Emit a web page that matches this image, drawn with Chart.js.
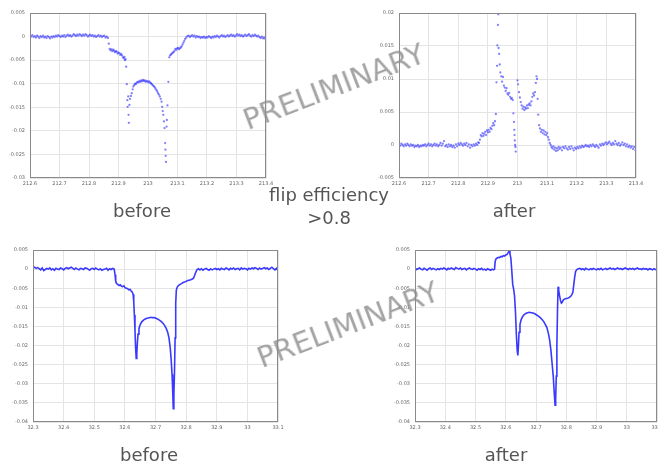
<!DOCTYPE html>
<html><head><meta charset="utf-8">
<script src="https://cdn.jsdelivr.net/npm/chart.js@4"></script>
<style>
html,body{margin:0;padding:0;background:#fff;width:658px;height:465px;overflow:hidden;position:relative;font-family:"DejaVu Sans",sans-serif}
canvas{position:absolute;left:0;top:0}
.lbl{position:absolute;color:#555;font-size:18px;transform:translate(-50%,-50%);white-space:nowrap;line-height:1}
.wm{position:absolute;color:rgba(140,140,140,0.8);font-size:29px;transform:translate(-50%,-50%) rotate(-21deg);white-space:nowrap;line-height:1}
</style></head><body>
<canvas id="cTL" width="658" height="465"></canvas>
<canvas id="cTR" width="658" height="465"></canvas>
<canvas id="cBL" width="658" height="465"></canvas>
<canvas id="cBR" width="658" height="465"></canvas>
<div class="lbl" style="left:142px;top:211px">before</div>
<div class="lbl" style="left:514px;top:211px">after</div>
<div class="lbl" style="left:329px;top:195px">flip efficiency</div>
<div class="lbl" style="left:329px;top:218px">&gt;0.8</div>
<div class="lbl" style="left:149px;top:455px">before</div>
<div class="lbl" style="left:506px;top:455px">after</div>
<div class="wm" style="left:334px;top:87px">PRELIMINARY</div>
<div class="wm" style="left:348px;top:325px">PRELIMINARY</div>
<script>
// values in units of 1e-3 (tick labels give the real values)
const topXTicks = [212.6,212.7,212.8,212.9,213.0,213.1,213.2,213.3,213.4];
const topXLabels = ['212.6','212.7','212.8','212.9','213','213.1','213.2','213.3','213.4'];
const botXTicks = [32.3,32.4,32.5,32.6,32.7,32.8,32.9,33.0,33.1];
const botXLabels = ['32.3','32.4','32.5','32.6','32.7','32.8','32.9','33','33.1'];
const tlYTicks = [5,0,-5,-10,-15,-20,-25,-30];
const tlYLabels = ['0.005','0','-0.005','-0.01','-0.015','-0.02','-0.025','-0.03'];
const trYTicks = [20,15,10,5,0,-5];
const trYLabels = ['0.02','0.015','0.01','0.005','0','-0.005'];
const botYTicks = [5,0,-5,-10,-15,-20,-25,-30,-35,-40];
const botYLabels = ['0.005','0','-0.005','-0.01','-0.015','-0.02','-0.025','-0.03','-0.035','-0.04'];

// top-left: before (scatter)
const beforeTopPts = [
[212.600,0.2],[212.604,0.0],[212.608,0.3],[212.612,-0.1],[212.616,0.1],[212.620,-0.2],[212.624,0.2],[212.628,0.0],[212.632,-0.3],[212.636,0.1],
[212.640,-0.1],[212.644,0.2],[212.648,-0.2],[212.652,0.0],[212.656,-0.3],[212.660,0.1],[212.664,-0.1],[212.668,-0.4],[212.672,0.0],[212.676,-0.2],
[212.680,0.1],[212.684,-0.1],[212.688,0.2],[212.692,0.0],[212.696,0.3],[212.700,0.1],[212.704,-0.1],[212.708,0.2],[212.712,0.0],[212.716,0.3],
[212.720,-0.1],[212.724,0.2],[212.728,0.4],[212.732,0.1],[212.736,0.3],[212.740,0.0],[212.744,0.2],[212.748,0.5],[212.752,0.3],[212.756,0.1],
[212.760,0.4],[212.764,0.2],[212.768,0.5],[212.772,0.3],[212.776,0.1],[212.780,0.4],[212.784,0.2],[212.788,0.5],[212.792,0.3],[212.796,0.0],
[212.800,0.2],[212.804,0.4],[212.808,0.1],[212.812,0.3],[212.816,0.0],[212.820,0.2],[212.824,-0.1],[212.828,0.1],[212.832,0.3],[212.836,0.0],
[212.840,0.2],[212.844,-0.1],[212.848,0.1],[212.852,0.2],[212.856,-0.2],[212.860,0.0],[212.864,-0.3],
[212.867,-1.5],[212.870,-2.6],[212.873,-2.9],[212.876,-2.7],[212.879,-3.1],[212.882,-2.8],[212.885,-3.0],[212.888,-3.3],[212.891,-3.1],[212.894,-3.2],
[212.897,-3.6],[212.900,-3.4],[212.903,-3.5],[212.906,-3.9],[212.909,-3.7],[212.912,-4.0],[212.915,-4.4],[212.918,-4.6],[212.920,-4.3],[212.922,-5.0],
[212.924,-4.8],[212.926,-6.4],[212.928,-10.1],[212.930,-13.5],[212.931,-14.9],[212.933,-12.7],[212.934,-16.6],[212.935,-18.3],[212.937,-14.5],[212.939,-13.2],
[212.942,-12.6],[212.945,-12.0],[212.948,-11.2],[212.950,-10.6],[212.953,-10.3],[212.956,-10.0],[212.959,-10.1],[212.962,-9.8],[212.965,-9.6],[212.968,-9.7],
[212.971,-9.4],[212.974,-9.6],[212.977,-9.3],[212.980,-9.5],[212.983,-9.2],[212.986,-9.4],[212.989,-9.3],[212.992,-9.6],[212.995,-9.4],[212.998,-9.5],
[213.001,-9.7],[213.004,-9.5],[213.007,-9.8],[213.010,-9.9],[213.013,-10.1],[213.016,-10.3],[213.019,-10.5],[213.022,-10.7],[213.025,-11.0],[213.028,-11.3],
[213.031,-11.6],[213.034,-12.0],[213.037,-12.3],[213.040,-12.7],[213.043,-13.2],[213.046,-13.8],[213.048,-14.9],[213.050,-15.8],[213.052,-16.6],[213.054,-18.0],
[213.056,-19.4],[213.058,-22.6],[213.059,-24.0],[213.060,-25.3],[213.061,-26.6],
[213.063,-19.1],[213.064,-17.7],[213.066,-14.6],[213.069,-9.6],
[213.072,-4.4],[213.075,-4.0],[213.078,-3.8],[213.081,-3.6],[213.084,-3.4],[213.087,-3.3],[213.090,-3.0],[213.093,-2.6],[213.096,-2.8],[213.099,-2.5],
[213.102,-2.4],[213.105,-2.7],[213.108,-2.5],[213.111,-2.3],[213.114,-2.1],[213.117,-1.7],[213.120,-1.3],[213.123,-0.9],[213.126,-0.5],[213.130,-0.2],
[213.134,0.1],
[213.138,0.2],[213.142,-0.1],[213.146,0.1],[213.150,0.3],[213.154,0.0],[213.158,0.2],[213.162,-0.2],[213.166,0.1],[213.170,-0.1],[213.174,0.0],
[213.178,-0.3],[213.182,-0.1],[213.186,-0.2],[213.190,0.0],[213.194,-0.3],[213.198,-0.1],[213.202,-0.2],[213.206,0.1],[213.210,-0.1],[213.214,-0.3],
[213.218,0.0],[213.222,-0.2],[213.226,0.1],[213.230,-0.1],[213.234,0.2],[213.238,0.0],[213.242,-0.2],[213.246,0.1],[213.250,0.3],[213.254,0.0],
[213.258,0.2],[213.262,-0.1],[213.266,0.1],[213.270,0.3],[213.274,0.0],[213.278,0.2],[213.282,0.4],[213.286,0.1],[213.290,0.3],[213.294,0.0],
[213.298,0.2],[213.302,0.5],[213.306,0.2],[213.310,0.4],[213.314,0.1],[213.318,0.3],[213.322,0.0],[213.326,0.2],[213.330,0.4],[213.334,0.1],
[213.338,0.3],[213.342,0.5],[213.346,0.2],[213.350,0.0],[213.354,0.3],[213.358,0.1],[213.362,0.4],[213.366,0.2],[213.370,0.0],[213.374,0.2],
[213.378,-0.1],[213.382,-0.3],[213.386,0.0],[213.390,-0.4],[213.394,-0.2],[213.398,-0.5]
];

// top-right: after (scatter)
const afterTopPts = [
[212.600,0.4],[212.604,-0.1],[212.608,0.2],[212.612,0.0],[212.616,-0.2],[212.620,0.1],[212.624,-0.1],[212.628,0.2],[212.632,0.0],[212.636,-0.2],
[212.640,0.1],[212.644,-0.1],[212.648,0.0],[212.652,-0.3],[212.656,-0.1],[212.660,-0.2],[212.664,0.0],[212.668,-0.3],[212.672,-0.1],[212.676,-0.2],
[212.680,0.0],[212.684,-0.1],[212.688,0.1],[212.692,-0.2],[212.696,0.0],[212.700,0.2],[212.704,-0.1],[212.708,0.1],[212.712,-0.2],[212.716,0.0],
[212.720,0.2],[212.724,-0.1],[212.728,0.1],[212.732,-0.2],[212.736,0.0],[212.740,0.3],[212.744,-0.1],[212.748,0.2],[212.752,0.6],[212.756,-0.2],
[212.760,0.0],[212.764,-0.3],[212.768,0.1],[212.772,-0.2],[212.776,0.0],[212.780,-0.3],[212.784,-0.1],[212.788,-0.4],[212.792,0.1],[212.796,-0.2],
[212.800,0.2],[212.804,0.0],[212.808,0.3],[212.812,0.1],[212.816,-0.1],[212.820,0.2],[212.824,0.0],[212.828,0.3],[212.832,-0.2],[212.836,0.1],
[212.840,-0.4],[212.844,0.0],[212.848,-0.2],[212.852,0.1],[212.856,-0.1],[212.860,0.2],[212.864,0.0],[212.867,0.4],
[212.870,0.3],[212.873,0.8],[212.876,1.5],[212.879,1.3],[212.882,1.8],[212.885,1.4],[212.888,1.7],[212.891,2.0],[212.894,1.5],[212.897,2.2],
[212.900,1.9],[212.903,2.3],[212.906,2.0],[212.909,2.6],[212.912,2.4],[212.915,2.9],[212.918,3.3],[212.921,3.0],[212.924,3.6],[212.927,4.7],
[212.929,9.5],[212.931,12.0],[212.932,15.1],[212.934,18.2],[212.935,19.8],[212.936,14.7],[212.938,13.8],[212.940,12.2],[212.942,11.0],[212.945,10.4],
[212.948,9.6],[212.951,10.3],[212.954,9.0],[212.957,8.7],[212.960,8.2],[212.963,8.6],[212.966,7.8],[212.969,7.6],[212.972,7.9],[212.975,7.3],
[212.978,7.0],[212.981,7.1],[212.984,6.8],
[212.986,4.8],[212.988,3.5],[212.989,2.3],[212.990,1.5],[212.991,0.7],[212.992,0.0],[212.993,-0.3],[212.994,-1.0],
[213.000,9.8],[213.002,9.2],[213.005,8.0],[213.008,7.2],[213.011,6.5],[213.014,6.0],[213.017,5.5],[213.020,5.8],[213.023,5.3],[213.026,5.7],
[213.029,5.5],[213.032,6.0],[213.035,5.6],[213.038,6.1],[213.041,6.3],[213.044,6.0],[213.047,6.6],[213.050,7.3],[213.053,7.8],[213.056,7.5],
[213.059,8.0],[213.062,9.4],[213.064,10.4],[213.066,10.0],[213.068,7.0],[213.070,4.6],[213.073,3.0],[213.076,2.5],[213.079,2.0],[213.082,2.3],
[213.085,1.8],[213.088,2.2],[213.091,1.6],[213.094,2.0],[213.097,1.5],[213.100,1.8],[213.103,1.2],[213.106,0.8],[213.109,0.3],[213.112,0.0],
[213.115,-0.3],[213.118,-0.5],[213.121,-0.2],[213.124,-0.7],[213.127,-0.4],[213.130,-0.9],[213.133,-0.5],[213.136,-0.8],[213.139,-0.3],[213.142,-0.6],
[213.146,-0.4],[213.150,-0.8],[213.154,-0.3],[213.158,-0.5],[213.162,-0.2],
[213.166,-0.5],[213.170,-0.7],[213.174,-0.3],[213.178,-0.6],[213.182,-0.2],[213.186,-0.5],[213.190,-0.8],[213.194,-0.4],[213.198,-0.6],[213.202,-0.3],
[213.206,-0.5],[213.210,-0.2],[213.214,-0.4],[213.218,-0.1],[213.222,-0.3],[213.226,-0.2],[213.230,0.0],[213.234,-0.2],[213.238,-0.1],[213.242,-0.3],
[213.246,0.0],[213.250,-0.2],[213.254,0.1],[213.258,-0.1],[213.262,-0.3],[213.266,0.0],[213.270,-0.2],[213.274,-0.4],[213.278,0.1],[213.282,-0.1],
[213.286,0.2],[213.290,0.0],[213.294,0.2],[213.298,0.4],[213.302,0.1],[213.306,0.3],[213.310,0.5],[213.314,0.2],[213.318,0.0],[213.322,0.3],
[213.326,0.1],[213.330,0.6],[213.334,0.2],[213.338,0.0],[213.342,0.3],[213.346,-0.1],[213.350,0.1],[213.354,0.4],[213.358,0.0],[213.362,0.2],
[213.366,-0.2],[213.370,0.1],[213.374,-0.3],[213.378,-0.1],[213.382,-0.4],[213.386,-0.2],[213.390,-0.6],[213.394,-0.3],[213.398,-0.8]
];

// bottom-left: before (line)
const beforeBotPts = [
[32.300,0.3],[32.305,0.5],[32.310,0.2],[32.315,0.4],[32.320,0.1],[32.325,-0.2],[32.330,0.3],[32.335,-0.4],[32.340,-0.1],[32.345,0.2],
[32.350,0.0],[32.355,0.3],[32.360,-0.2],[32.365,0.1],[32.370,-0.3],[32.375,0.2],[32.380,0.0],[32.385,-0.1],[32.390,0.3],[32.395,0.1],
[32.400,-0.2],[32.405,0.2],[32.410,0.4],[32.415,0.1],[32.420,0.3],[32.425,0.5],[32.430,0.2],[32.435,-0.1],[32.440,0.3],[32.445,0.0],
[32.450,-0.2],[32.455,0.2],[32.460,0.1],[32.465,-0.1],[32.470,0.3],[32.475,0.2],[32.480,0.0],[32.485,-0.3],[32.490,0.1],[32.495,0.2],
[32.500,-0.1],[32.505,0.3],[32.510,0.0],[32.515,-0.2],[32.520,0.1],[32.525,-0.3],[32.530,-0.1],[32.535,0.0],[32.540,0.2],[32.545,-0.3],
[32.550,0.1],[32.555,-0.1],[32.560,0.2],[32.565,0.0],
[32.568,-1.5],[32.570,-3.2],[32.573,-3.8],[32.577,-4.0],[32.581,-4.3],[32.585,-4.1],[32.589,-4.5],[32.593,-4.6],[32.597,-4.4],[32.601,-4.9],
[32.605,-5.0],[32.609,-5.1],[32.613,-5.4],[32.617,-5.3],[32.621,-5.8],[32.624,-6.0],[32.627,-6.6],[32.629,-8.5],[32.631,-12.0],[32.633,-16.0],
[32.635,-20.5],[32.637,-23.4],[32.639,-22.0],[32.641,-19.0],[32.643,-17.0],[32.646,-15.6],[32.650,-14.5],[32.655,-13.8],[32.660,-13.4],[32.665,-13.1],
[32.670,-12.9],[32.675,-12.8],[32.680,-12.7],[32.685,-12.6],[32.690,-12.7],[32.695,-12.7],[32.700,-12.8],[32.705,-13.0],[32.710,-13.2],[32.715,-13.5],
[32.720,-13.8],[32.725,-14.2],[32.730,-14.8],[32.735,-15.5],[32.740,-16.6],[32.744,-18.0],[32.748,-20.5],[32.751,-23.5],[32.754,-27.5],[32.756,-31.5],
[32.758,-36.5],[32.760,-33.0],[32.762,-27.0],[32.764,-18.0],[32.766,-9.0],[32.768,-5.5],[32.771,-4.7],[32.775,-4.3],[32.780,-4.0],[32.785,-3.8],
[32.790,-3.5],[32.795,-3.4],[32.800,-3.2],[32.805,-3.0],[32.810,-2.9],[32.815,-2.8],[32.820,-2.6],[32.824,-2.4],[32.828,-1.6],[32.832,-0.7],
[32.836,-0.1],[32.840,0.1],
[32.845,-0.2],[32.850,0.1],[32.855,-0.3],[32.860,0.0],[32.865,0.2],[32.870,-0.1],[32.875,-0.3],[32.880,0.1],[32.885,-0.2],[32.890,0.0],
[32.895,0.2],[32.900,-0.1],[32.905,0.1],[32.910,-0.2],[32.915,0.2],[32.920,0.0],[32.925,-0.1],[32.930,0.3],[32.935,0.1],[32.940,-0.2],
[32.945,0.2],[32.950,0.0],[32.955,0.3],[32.960,-0.1],[32.965,0.1],[32.970,0.2],[32.975,-0.2],[32.980,0.3],[32.985,0.0],[32.990,0.2],
[32.995,0.1],[33.000,-0.2],[33.005,0.2],[33.010,0.0],[33.015,0.3],[33.020,0.1],[33.025,0.4],[33.030,0.2],[33.035,-0.1],[33.040,0.3],
[33.045,0.0],[33.050,0.2],[33.055,0.4],[33.060,0.1],[33.065,0.3],[33.070,-0.1],[33.075,0.2],[33.080,0.5],[33.085,0.1],[33.090,-0.2],
[33.095,0.2],[33.100,-0.4]
];

// bottom-right: after (line)
const afterBotPts = [
[32.300,0.2],[32.305,-0.1],[32.310,0.1],[32.315,0.3],[32.320,0.0],[32.325,-0.2],[32.330,0.2],[32.335,0.0],[32.340,-0.3],[32.345,0.1],
[32.350,0.3],[32.355,-0.1],[32.360,0.2],[32.365,0.0],[32.370,-0.2],[32.375,0.1],[32.380,-0.1],[32.385,0.2],[32.390,0.0],[32.395,0.3],
[32.400,0.1],[32.405,-0.2],[32.410,0.2],[32.415,0.0],[32.420,0.3],[32.425,0.1],[32.430,-0.1],[32.435,0.4],[32.440,0.2],[32.445,0.0],
[32.450,0.3],[32.455,-0.1],[32.460,0.1],[32.465,0.2],[32.470,-0.2],[32.475,0.1],[32.480,0.3],[32.485,0.0],[32.490,-0.1],[32.495,0.2],
[32.500,0.0],[32.505,-0.3],[32.510,0.1],[32.515,-0.1],[32.520,0.2],[32.525,-0.2],[32.530,0.0],[32.535,-0.3],[32.540,0.1],[32.545,-0.1],
[32.550,-0.3],[32.555,0.0],[32.560,-0.2],
[32.563,0.0],[32.565,2.0],[32.568,2.7],[32.572,2.9],[32.576,3.1],[32.580,3.0],[32.584,3.3],[32.588,3.2],[32.592,3.5],[32.596,3.4],
[32.600,3.7],[32.604,3.8],[32.608,4.3],[32.611,4.8],[32.614,4.0],[32.617,2.8],[32.620,-0.5],[32.623,-4.0],[32.626,-5.2],[32.629,-7.0],
[32.632,-11.0],[32.635,-17.0],[32.638,-21.5],[32.640,-22.6],[32.642,-20.0],[32.644,-16.5],[32.647,-14.5],[32.651,-13.2],[32.656,-12.4],[32.661,-11.9],
[32.666,-11.6],[32.672,-11.4],[32.678,-11.3],[32.684,-11.4],[32.690,-11.5],[32.696,-11.7],[32.702,-12.0],[32.708,-12.3],[32.714,-12.7],[32.720,-13.2],
[32.726,-13.8],[32.731,-14.5],[32.736,-15.3],[32.741,-16.8],[32.745,-18.5],[32.749,-21.0],[32.753,-24.5],[32.757,-28.0],[32.760,-32.0],[32.763,-35.6],
[32.765,-34.0],[32.767,-28.0],[32.769,-20.0],[32.771,-11.0],[32.773,-4.6],[32.775,-5.5],[32.778,-7.0],[32.781,-8.2],[32.784,-8.9],[32.787,-8.7],
[32.790,-8.1],[32.795,-7.8],[32.800,-7.7],[32.805,-7.6],[32.810,-7.4],[32.815,-7.1],[32.819,-6.6],[32.822,-6.0],[32.825,-4.0],[32.828,-2.0],
[32.831,-0.6],[32.835,-0.1],[32.840,0.1],
[32.845,0.2],[32.850,-0.1],[32.855,0.1],[32.860,-0.2],[32.865,0.2],[32.870,0.0],[32.875,-0.2],[32.880,0.1],[32.885,-0.1],[32.890,0.2],
[32.895,0.0],[32.900,-0.2],[32.905,0.1],[32.910,-0.1],[32.915,0.2],[32.920,-0.2],[32.925,0.0],[32.930,0.2],[32.935,-0.1],[32.940,0.1],
[32.945,0.3],[32.950,0.0],[32.955,0.2],[32.960,-0.1],[32.965,0.1],[32.970,0.3],[32.975,0.0],[32.980,0.2],[32.985,-0.1],[32.990,0.1],
[32.995,0.3],[33.000,0.1],[33.005,-0.1],[33.010,0.2],[33.015,0.0],[33.020,0.2],[33.025,-0.1],[33.030,0.1],[33.035,0.3],[33.040,0.0],
[33.045,0.1],[33.050,-0.1],[33.055,0.2],[33.060,0.0],[33.065,0.1],[33.070,-0.2],[33.075,0.1],[33.080,0.0],[33.085,-0.2],[33.090,0.1],
[33.095,-0.1],[33.100,-0.2]
];

const framePlugin = {
  id: 'frame',
  afterDatasetsDraw(chart) {
    const a = chart.chartArea, c = chart.ctx;
    c.save();
    c.strokeStyle = '#8a8a8a';
    c.lineWidth = 1;
    c.strokeRect(Math.round(a.left) + 0.5, Math.round(a.top) + 0.5,
                 Math.round(a.right - a.left) - 1, Math.round(a.bottom - a.top) - 1);
    c.restore();
  }
};

function build(id, pts, isLine, area, xT, xL, yT, yL) {
  const tickFont = { size: 5, family: 'DejaVu Sans' };
  new Chart(document.getElementById(id), {
    type: 'scatter',
    data: { datasets: [{
      data: pts.map(p => ({ x: p[0], y: p[1] })),
      showLine: isLine,
      pointRadius: isLine ? 0 : 1.15,
      pointBorderWidth: 0,
      borderWidth: isLine ? 1.6 : 0,
      borderColor: 'rgba(35,35,255,0.9)',
      backgroundColor: 'rgba(45,45,255,0.6)'
    }]},
    options: {
      responsive: false, animation: false, events: [],
      layout: { padding: { left: 0, top: area.t, right: 658 - area.r, bottom: 465 - area.b - 12 } },
      plugins: { legend: { display: false }, tooltip: { enabled: false } },
      scales: {
        x: {
          type: 'linear', min: xT[0], max: xT[xT.length - 1],
          afterBuildTicks: s => { s.ticks = xT.map(v => ({ value: v })); },
          afterFit: s => { s.height = 12; s.paddingLeft = 0; s.paddingRight = 0; },
          ticks: { callback: (v, i) => xL[i], font: tickFont, color: '#666', padding: 3, maxRotation: 0, autoSkip: false },
          grid: { color: '#e4e4e4', drawTicks: false },
          border: { display: false }
        },
        y: {
          type: 'linear', min: Math.min(...yT), max: Math.max(...yT),
          afterBuildTicks: s => { s.ticks = yT.map(v => ({ value: v })); },
          afterFit: s => { s.width = area.l; s.paddingTop = 0; s.paddingBottom = 0; },
          ticks: { callback: (v, i) => yL[i], font: tickFont, color: '#666', padding: 5, autoSkip: false },
          grid: { color: '#e4e4e4', drawTicks: false },
          border: { display: false }
        }
      }
    },
    plugins: [framePlugin]
  });
}

build('cTL', beforeTopPts, false, { l: 30, t: 13, r: 266, b: 178 }, topXTicks, topXLabels, tlYTicks, tlYLabels);
build('cTR', afterTopPts, false, { l: 399, t: 13, r: 636, b: 178 }, topXTicks, topXLabels, trYTicks, trYLabels);
build('cBL', beforeBotPts, true, { l: 33, t: 250, r: 278, b: 422 }, botXTicks, botXLabels, botYTicks, botYLabels);
build('cBR', afterBotPts, true, { l: 415, t: 250, r: 657, b: 422 }, botXTicks, botXLabels, botYTicks, botYLabels);
</script>
</body></html>
